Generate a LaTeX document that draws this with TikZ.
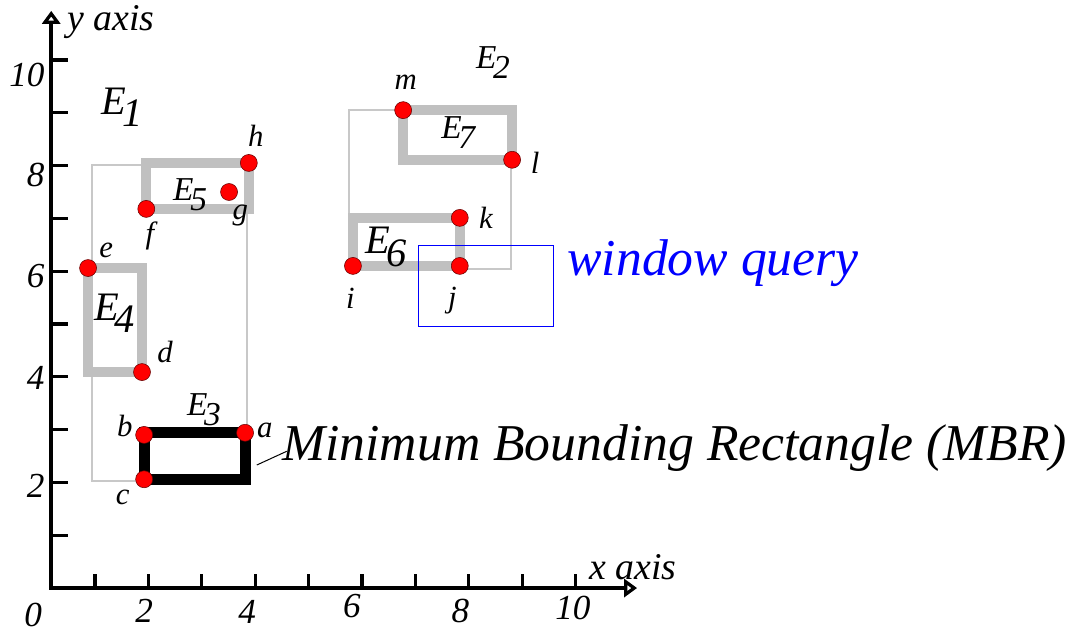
\documentclass[tikz,border=0pt]{standalone}
\usepackage{fontspec}
\setmainfont{Liberation Serif}
\usetikzlibrary{arrows.meta}

\definecolor{boxgray}{RGB}{192,192,192}
\definecolor{thingray}{RGB}{200,200,200}
\definecolor{ptred}{RGB}{255,0,0}

\newcommand{\Elab}[1]{E\kern-0.1em\raisebox{-0.3em}{#1}}

\begin{document}
\begin{tikzpicture}[x=1.068cm,y=1.056cm,
    every node/.style={inner sep=0pt},
    axis/.style={line width=0.07cm, line join=miter,
        {Triangle[open,length=0.26cm,width=0.36cm]}-{Triangle[open,length=0.26cm,width=0.36cm]}},
    tick/.style={line width=0.065cm},
    numlab/.style={font=\itshape\fontsize{20}{20}\selectfont},
    axlab/.style={font=\itshape\fontsize{21.5}{21.5}\selectfont},
    ptlab/.style={font=\itshape\fontsize{17.5}{17.5}\selectfont},
    elab/.style={font=\itshape\fontsize{23}{23}\selectfont},
    elabsmall/.style={font=\itshape\fontsize{19}{19}\selectfont},
    bigtxt/.style={font=\itshape\fontsize{29.4}{29.4}\selectfont},
    outerbox/.style={draw=thingray, line width=0.03cm},
    leafbox/.style={draw=boxgray, line width=0.2cm},
    wqbox/.style={draw=blue, line width=0.02cm},
    dot/.style={circle, fill=ptred, draw=black!60!red, line width=0.3pt,
        minimum size=0.34cm, inner sep=0pt}]
    \useasboundingbox (-0.779,-0.814) rectangle (19.50,11.136);

    % axes
    \coordinate (O) at (0.18,0);
    \coordinate (xend) at (11.15,0);
    \coordinate (yend) at (0.18,10.93);
    \draw[axis] (xend) -- (O) -- (yend);
    \foreach \k in {1,...,10} {
        \draw[tick] (0.18,\k) -- ++(0.32,0);
        \draw[tick] (\k,0) -- ++(0,0.27);
    }
    \foreach \k/\yy in {2/1.93,4/3.98,6/5.91,8/7.82,10/9.72}
        \node[numlab, anchor=east] (ylab\k) at (0.06,\yy) {\k};
    \foreach \k/\xx/\yy in {0/-0.16/-0.51,2/1.92/-0.44,4/3.85/-0.45,6/5.81/-0.34,8/7.84/-0.44,10/9.95/-0.38}
        \node[numlab] (xlab\k) at (\xx,\yy) {\k};
    \node[axlab] (ylabel) at (1.30,10.72) {y axis};
    \node[axlab] (xlabel) at (11.07,0.40) {x axis};

    % data points
    \coordinate (a) at (3.81,2.94);
    \coordinate (b) at (1.92,2.90);
    \coordinate (c) at (1.92,2.06);
    \coordinate (d) at (1.88,4.09);
    \coordinate (e) at (0.87,6.06);
    \coordinate (f) at (1.96,7.18);
    \coordinate (g) at (3.51,7.50);
    \coordinate (h) at (3.88,8.05);
    \coordinate (i) at (5.83,6.10);
    \coordinate (j) at (7.83,6.10);
    \coordinate (k) at (7.83,7.01);
    \coordinate (l) at (8.81,8.11);
    \coordinate (m) at (6.77,9.05);

    % parent MBRs
    \draw[outerbox] (0.94,2.03) rectangle (3.85,8.01);
    \draw[outerbox] (5.76,6.04) rectangle (8.79,9.05);
    % leaf MBRs
    \draw[leafbox] (e) rectangle (d);
    \draw[leafbox] (f) rectangle (h);
    \draw[leafbox] (i) rectangle (k);
    \draw[leafbox] (m) rectangle (l);
    \draw[leafbox, draw=black, line width=0.22cm] (c) rectangle (a);
    % window query
    \draw[wqbox] (7.05,4.96) rectangle (9.58,6.48);

    \foreach \p in {a,b,c,d,e,f,g,h,i,j,k,l,m}
        \node[dot] (dot\p) at (\p) {};

    \node[ptlab] (la) at (4.18,2.99) {a};
    \node[ptlab] (lb) at (1.56,3.07) {b};
    \node[ptlab] (lc) at (1.52,1.72) {c};
    \node[ptlab] (ld) at (2.31,4.47) {d};
    \node[ptlab] (le) at (1.21,6.40) {e};
    \node[ptlab] (lf) at (2.03,6.67) {f};
    \node[ptlab] (lg) at (3.72,7.05) {g};
    \node[ptlab] (lh) at (4.01,8.56) {h};
    \node[ptlab] (li) at (5.78,5.49) {i};
    \node[ptlab] (lj) at (7.69,5.45) {j};
    \node[ptlab] (lk) at (8.32,7.01) {k};
    \node[ptlab] (ll) at (9.24,8.05) {l};
    \node[ptlab] (lm) at (6.82,9.58) {m};

    \node[elab] (E1) at (1.51,9.11) {\Elab{1}};
    \node[elabsmall] (E2) at (8.45,9.96) {\Elab{2}};
    \node[elabsmall] (E3) at (3.04,3.37) {\Elab{3}};
    \node[elab] (E4) at (1.37,5.21) {\Elab{4}};
    \node[elabsmall] (E5) at (2.78,7.44) {\Elab{5}};
    \node[elab] (E6) at (6.45,6.46) {\Elab{6}};
    \node[elabsmall] (E7) at (7.80,8.62) {\Elab{7}};

    \node[bigtxt, anchor=base west] (mbr) at (4.50,2.42) {Minimum Bounding Rectangle (MBR)};
    \coordinate (mbrfoot) at (4.03,2.33);
    \coordinate (mbrtip) at (4.59,2.59);
    \draw[line width=0.02cm] (mbrfoot) -- (mbrtip);

    \node[bigtxt, text=blue, anchor=base west] (wq) at (9.84,5.91) {window query};
\end{tikzpicture}
\end{document}
